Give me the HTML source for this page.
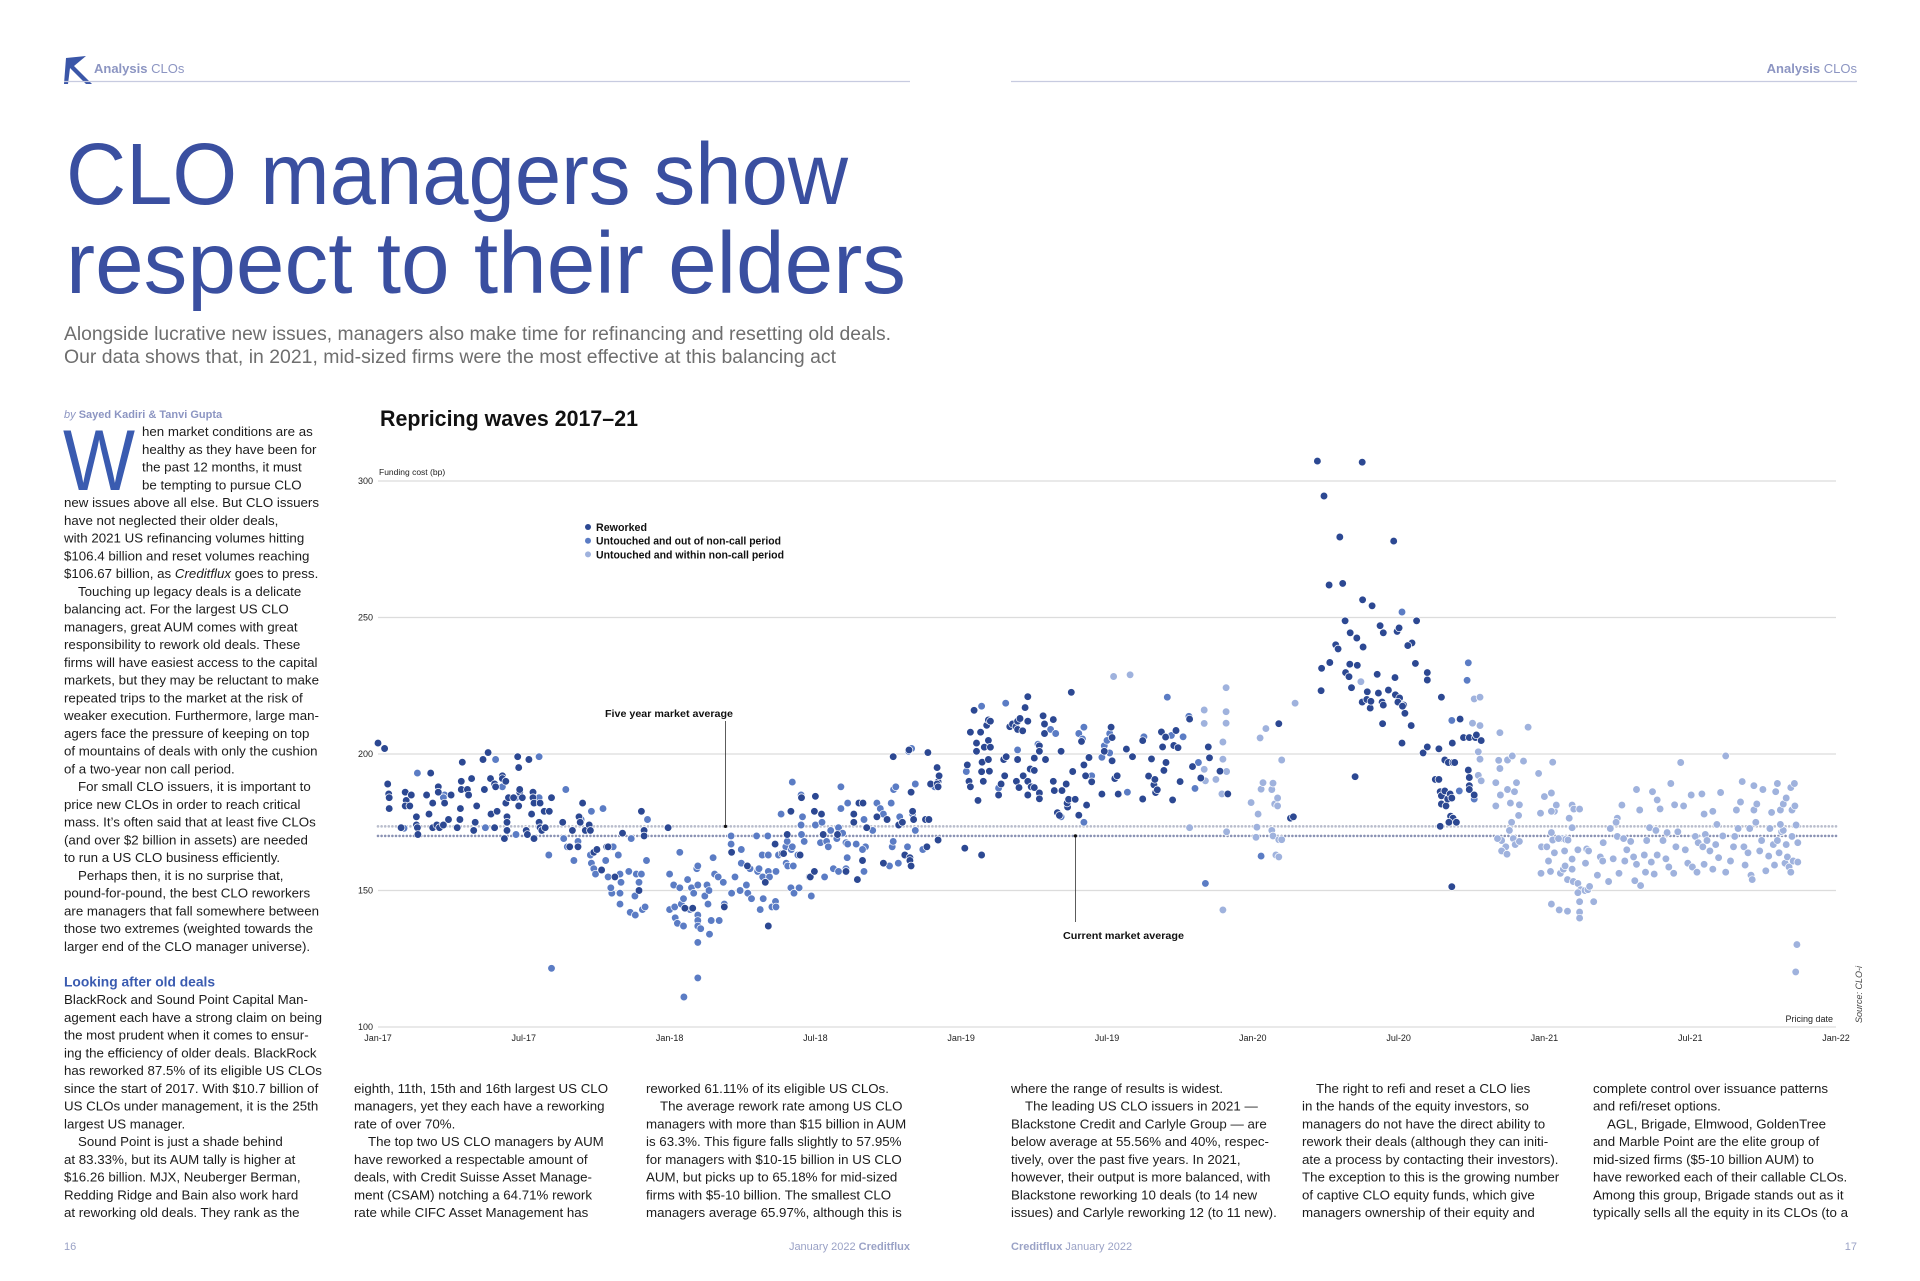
<!DOCTYPE html>
<html><head><meta charset="utf-8"><title>CLO managers show respect to their elders</title>
<style>
html,body{margin:0;padding:0;background:#fff;}
svg{display:block;font-family:"Liberation Sans",sans-serif;}
.body{font-size:13.3px;fill:#1c1c1c;}
.hdr{font-size:13px;fill:#8c95c2;}
.tick{font-size:9px;fill:#222;}
</style></head>
<body>
<svg id="page" width="1920" height="1281" viewBox="0 0 1920 1281" xmlns="http://www.w3.org/2000/svg">
<rect width="1920" height="1281" fill="#fff"/>
<g>
<path d="M66 58 L86 56 L74 66 L92 84 L86 84 L70 68 L68 84 L64 84 Z" fill="#3a56a8"/>
<text x="94" y="73" class="hdr"><tspan font-weight="bold">Analysis</tspan> CLOs</text>
<line x1="64" y1="81.5" x2="910" y2="81.5" stroke="#c7cbe0" stroke-width="1.2"/>
</g>
<g>
<text x="1857" y="73" text-anchor="end" class="hdr"><tspan font-weight="bold">Analysis</tspan> CLOs</text>
<line x1="1011" y1="81.5" x2="1857" y2="81.5" stroke="#c7cbe0" stroke-width="1.2"/>
</g>
<text x="66" y="204" font-size="87" fill="#3a4fa0" textLength="782" lengthAdjust="spacingAndGlyphs">CLO managers show</text>
<text x="66" y="293" font-size="87" fill="#3a4fa0" textLength="840" lengthAdjust="spacingAndGlyphs">respect to their elders</text>
<text x="64" y="340" font-size="19" fill="#6e6e6e" textLength="827" lengthAdjust="spacingAndGlyphs">Alongside lucrative new issues, managers also make time for refinancing and resetting old deals.</text>
<text x="64" y="363" font-size="19" fill="#6e6e6e" textLength="772" lengthAdjust="spacingAndGlyphs">Our data shows that, in 2021, mid-sized firms were the most effective at this balancing act</text>
<text x="64" y="418" font-size="11" fill="#8c95c2"><tspan font-style="italic">by </tspan><tspan font-weight="bold">Sayed Kadiri &amp; Tanvi Gupta</tspan></text>
<text x="63" y="490" font-size="86" fill="#3a5bb0" textLength="72" lengthAdjust="spacingAndGlyphs">W</text>
<g class="body">
<text x="142" y="436">hen market conditions are as</text>
<text x="142" y="453.75">healthy as they have been for</text>
<text x="142" y="471.5">the past 12 months, it must</text>
<text x="142" y="489.25">be tempting to pursue CLO</text>
<text x="64" y="507">new issues above all else. But CLO issuers</text>
<text x="64" y="524.75">have not neglected their older deals,</text>
<text x="64" y="542.5">with 2021 US refinancing volumes hitting</text>
<text x="64" y="560.25">$106.4 billion and reset volumes reaching</text>
<text x="64" y="578">$106.67 billion, as <tspan font-style="italic">Creditflux</tspan> goes to press.</text>
<text x="78" y="595.75">Touching up legacy deals is a delicate</text>
<text x="64" y="613.5">balancing act. For the largest US CLO</text>
<text x="64" y="631.25">managers, great AUM comes with great</text>
<text x="64" y="649">responsibility to rework old deals. These</text>
<text x="64" y="666.75">firms will have easiest access to the capital</text>
<text x="64" y="684.5">markets, but they may be reluctant to make</text>
<text x="64" y="702.25">repeated trips to the market at the risk of</text>
<text x="64" y="720">weaker execution. Furthermore, large man-</text>
<text x="64" y="737.75">agers face the pressure of keeping on top</text>
<text x="64" y="755.5">of mountains of deals with only the cushion</text>
<text x="64" y="773.25">of a two-year non call period.</text>
<text x="78" y="791">For small CLO issuers, it is important to</text>
<text x="64" y="808.75">price new CLOs in order to reach critical</text>
<text x="64" y="826.5">mass. It’s often said that at least five CLOs</text>
<text x="64" y="844.25">(and over $2 billion in assets) are needed</text>
<text x="64" y="862">to run a US CLO business efficiently.</text>
<text x="78" y="879.75">Perhaps then, it is no surprise that,</text>
<text x="64" y="897.5">pound-for-pound, the best CLO reworkers</text>
<text x="64" y="915.25">are managers that fall somewhere between</text>
<text x="64" y="933">those two extremes (weighted towards the</text>
<text x="64" y="950.75">larger end of the CLO manager universe).</text>
<text x="64" y="986.25" font-weight="bold" fill="#3a5bb0" font-size="13.8">Looking after old deals</text>
<text x="64" y="1004">BlackRock and Sound Point Capital Man-</text>
<text x="64" y="1021.75">agement each have a strong claim on being</text>
<text x="64" y="1039.5">the most prudent when it comes to ensur-</text>
<text x="64" y="1057.25">ing the efficiency of older deals. BlackRock</text>
<text x="64" y="1075">has reworked 87.5% of its eligible US CLOs</text>
<text x="64" y="1092.75">since the start of 2017. With $10.7 billion of</text>
<text x="64" y="1110.5">US CLOs under management, it is the 25th</text>
<text x="64" y="1128.25">largest US manager.</text>
<text x="78" y="1146">Sound Point is just a shade behind</text>
<text x="64" y="1163.75">at 83.33%, but its AUM tally is higher at</text>
<text x="64" y="1181.5">$16.26 billion. MJX, Neuberger Berman,</text>
<text x="64" y="1199.25">Redding Ridge and Bain also work hard</text>
<text x="64" y="1217">at reworking old deals. They rank as the</text>
</g>
<g class="body">
<text x="354" y="1092.75">eighth, 11th, 15th and 16th largest US CLO</text>
<text x="354" y="1110.5">managers, yet they each have a reworking</text>
<text x="354" y="1128.25">rate of over 70%.</text>
<text x="368" y="1146">The top two US CLO managers by AUM</text>
<text x="354" y="1163.75">have reworked a respectable amount of</text>
<text x="354" y="1181.5">deals, with Credit Suisse Asset Manage-</text>
<text x="354" y="1199.25">ment (CSAM) notching a 64.71% rework</text>
<text x="354" y="1217">rate while CIFC Asset Management has</text>
</g>
<g class="body">
<text x="646" y="1092.75">reworked 61.11% of its eligible US CLOs.</text>
<text x="660" y="1110.5">The average rework rate among US CLO</text>
<text x="646" y="1128.25">managers with more than $15 billion in AUM</text>
<text x="646" y="1146">is 63.3%. This figure falls slightly to 57.95%</text>
<text x="646" y="1163.75">for managers with $10-15 billion in US CLO</text>
<text x="646" y="1181.5">AUM, but picks up to 65.18% for mid-sized</text>
<text x="646" y="1199.25">firms with $5-10 billion. The smallest CLO</text>
<text x="646" y="1217">managers average 65.97%, although this is</text>
</g>
<g class="body">
<text x="1011" y="1092.75">where the range of results is widest.</text>
<text x="1025" y="1110.5">The leading US CLO issuers in 2021 —</text>
<text x="1011" y="1128.25">Blackstone Credit and Carlyle Group — are</text>
<text x="1011" y="1146">below average at 55.56% and 40%, respec-</text>
<text x="1011" y="1163.75">tively, over the past five years. In 2021,</text>
<text x="1011" y="1181.5">however, their output is more balanced, with</text>
<text x="1011" y="1199.25">Blackstone reworking 10 deals (to 14 new</text>
<text x="1011" y="1217">issues) and Carlyle reworking 12 (to 11 new).</text>
</g>
<g class="body">
<text x="1316" y="1092.75">The right to refi and reset a CLO lies</text>
<text x="1302" y="1110.5">in the hands of the equity investors, so</text>
<text x="1302" y="1128.25">managers do not have the direct ability to</text>
<text x="1302" y="1146">rework their deals (although they can initi-</text>
<text x="1302" y="1163.75">ate a process by contacting their investors).</text>
<text x="1302" y="1181.5">The exception to this is the growing number</text>
<text x="1302" y="1199.25">of captive CLO equity funds, which give</text>
<text x="1302" y="1217">managers ownership of their equity and</text>
</g>
<g class="body">
<text x="1593" y="1092.75">complete control over issuance patterns</text>
<text x="1593" y="1110.5">and refi/reset options.</text>
<text x="1607" y="1128.25">AGL, Brigade, Elmwood, GoldenTree</text>
<text x="1593" y="1146">and Marble Point are the elite group of</text>
<text x="1593" y="1163.75">mid-sized firms ($5-10 billion AUM) to</text>
<text x="1593" y="1181.5">have reworked each of their callable CLOs.</text>
<text x="1593" y="1199.25">Among this group, Brigade stands out as it</text>
<text x="1593" y="1217">typically sells all the equity in its CLOs (to a</text>
</g>
<g font-size="11" fill="#9aa2c6">
<text x="64" y="1250">16</text>
<text x="910" y="1250" text-anchor="end">January 2022 <tspan font-weight="bold">Creditflux</tspan></text>
<text x="1011" y="1250"><tspan font-weight="bold">Creditflux</tspan> January 2022</text>
<text x="1857" y="1250" text-anchor="end">17</text>
</g>
<g id="chart">
<text x="380" y="426" font-size="22" font-weight="bold" fill="#111" textLength="258" lengthAdjust="spacingAndGlyphs">Repricing waves 2017–21</text>
<text x="379" y="475" font-size="8.5" fill="#222">Funding cost (bp)</text>
<text x="1833" y="1022" font-size="9" fill="#222" text-anchor="end">Pricing date</text>
<text transform="translate(1862,1023) rotate(-90)" font-size="9" font-style="italic" fill="#444">Source: CLO-i</text>
<g id="grid"></g><g id="avgs"></g><g id="dots"></g><g id="legend"></g>
</g>
</svg>
<script>
const yTicks = [100, 150, 200, 250, 300];
const xTickLabels = ["Jan-17","Jul-17","Jan-18","Jul-18","Jan-19","Jul-19","Jan-20","Jul-20","Jan-21","Jul-21","Jan-22"];
const xTickMonths = [0,6,12,18,24,30,36,42,48,54,60];
const fiveYearAvg = 173.5;
const currentAvg = 170;
const seriesNames = ["Reworked","Untouched and out of non-call period","Untouched and within non-call period"];
// [months since Jan-2017, funding cost bp]
const reworked = [[0,204],[0.27,202],[0.4,189],[0.44,185.4],[0.46,184],[0.46,180],[0.95,173],[1.12,186],[1.16,183],[1.12,181],[1.37,185],[1.31,181],[1.58,177],[1.58,174],[1.62,173],[1.64,170.5],[2.17,193],[2,185],[2.1,178],[2.25,182],[2.25,173],[2.48,188],[2.48,186],[2.42,174],[2.53,173],[2.69,174],[3.01,185],[2.9,176],[2.74,182],
[3.26,173],[3.37,176],[3.39,180],[3.43,187],[3.43,190],[3.47,197],[3.68,187],[3.73,185],[3.85,191],[3.94,172],[4,175],[4.06,181],[4.32,198],[4.38,187],[4.53,200.5],[4.63,191],[4.65,178],[4.8,189],[4.84,188],[4.9,179],[4.8,173],[5.12,192],[5.12,191],[5.2,169],[5.26,190],[5.31,177],[5.31,175],[5.31,172],[5.26,182],[5.37,184],[5.58,184],[5.75,199],[5.79,195],[5.79,181],[5.83,186],[5.83,187],[5.94,184],[6.1,172],[6.15,170.5],[6.21,198],[6.32,178],[6.38,186],[6.38,184],[6.42,169],[6.42,182],[6.67,182],[6.63,175],[6.67,173],[6.74,172],[6.84,179],[6.88,173],[7.05,179],[7.14,184],
[7.6,175],[7.89,166],[8,172],[8.27,177],[8.32,175],[8.23,166],[8.42,182],[8.53,172],[8.69,174],[8.74,172],[8.88,164],[9.01,165],[9.2,157.5],[9.41,166],[9.47,166],[9.75,155],[10.06,171],[10.74,150],[10.84,179],[10.95,172],[10.95,170],
[11.94,173],[12.63,143.5],[12.95,143.5],[14.25,144],[14.55,164],[15.2,159],[15.94,153],[16.06,137],[16.34,167],[16.63,163.5],[16.69,163.5],[16.84,170.5],[16.99,179],[17.37,163],[17.43,184],[17.75,155],[17.79,155],[17.96,157],[18,184.5],[17.96,179],[18.25,178],[18.32,170.5],[18.91,170.5],[19.26,157],[19.58,178],[19.58,175],[19.73,154],[19.79,182],[19.96,182],[19.94,161],[20.11,173],[20.53,177],[20.8,160],[20.95,176],[21.2,199],[21.43,174],[21.58,175],[21.68,163],[21.89,162],[21.89,161],[21.94,159],[21.85,201.5],[21.94,186],[22,179],[22.04,176],[22.53,176],[22.59,166],[22.63,200.5],[22.67,176],[22.74,189],[23.01,195],[23.05,189.8],[23.01,189],[23.05,188],[23.09,192],[23.05,168.5],
[24.25,196],[24.32,190],[24.38,188],[24.53,216],[24.38,208],[24.15,165.5],[24.63,204],[24.63,201],[24.69,183],[24.8,208],[24.86,197],[24.84,193.5],[24.91,190],[24.84,163],[24.95,202.5],[25.12,205],[25.05,210.5],[25.12,212.5],[25.12,198],[25.16,193.7],[25.2,202.5],[25.2,212],[25.54,185],[25.64,189],[25.79,192],[25.75,198],[25.85,199],[26,210],[26.11,211],[26.25,210],[26.32,212],[26.32,209],[26.32,198],[26.27,190],[26.42,213],[26.53,208.5],[26.38,187.7],[26.55,192],[26.63,217],[26.74,221],[26.74,212],[26.74,185],[26.74,190],[26.84,194.5],[26.88,188],[27.01,198.5],[27.01,194],[27.01,187.7],[27.22,203],[27.22,201],[27.22,185.7],[27.22,183.6],[27.37,214],[27.43,211],[27.43,207.5],[27.47,198],[27.79,212.6],[27.79,190],[27.83,186.6],[27.96,178.5],[28.04,177.5],[28.11,201],[28.15,186.6],[28.32,189],[28.38,180.6],[28.36,182],[28.42,183.4],[28.53,222.6],[28.59,193.6],[28.69,183.4],[28.84,177.6],[28.95,204.6],[29.05,196],[29.12,192],[29.16,181.3],[29.26,198.7],[29.37,189.8],[29.79,185.3],[29.89,201],[30.17,209.8],[30.21,206],[30.21,197.5],[30.32,191],[30.42,192],[30.46,185.3],[30.8,201.8],[31.05,199],
[31.47,204.9],[31.47,183.5],[31.71,191.9],[31.83,198.2],[31.93,188.7],[31.97,190.7],[32,185.9],[32.07,186.9],[32.24,208.1],[32.29,202.6],[32.34,194],[32.41,206.2],[32.43,196.9],[32.7,183.2],[32.75,203.1],[32.84,208.6],[32.92,202.3],[33.01,189.9],[33.4,212.8],[33.52,195.4],[33.86,191.2],[34.17,202.6],[34.22,198.6],[34.65,193.7],[34.97,185.4],
[37.07,211.1],[37.55,176.5],[37.67,177],
[38.66,307.3],[40.5,306.9],[38.93,294.5],[39.58,279.5],[41.8,278],[39.14,261.9],[39.7,262.5],[40.52,256.5],[40.91,254.3],[42.74,248.8],[39.8,248.8],[40.01,244.4],[40.28,242.5],[41.37,244.4],[41.24,247],[41.94,244.9],[42.02,246.2],[39.41,240],[39.51,238.5],[40.54,239.2],[42.55,240.7],[42.38,239.7],[39.17,233.5],[38.83,231.4],[39.99,232.9],[40.3,232.5],[39.82,229.8],[39.96,228.3],[41.12,229.2],[41.85,228],[42.69,233.2],[43.18,229.8],[43.18,227.1],[38.81,223.2],[40.06,224.3],[40.5,219],[40.83,216.8],[40.71,222.8],[40.69,220],[40.86,219.3],[41.17,222.3],[41.32,219],[41.37,217.9],[41.58,223.4],[41.87,221.7],[42.04,220.5],[41.97,219],[42.21,217.9],[42.26,214.9],[42.52,210.4],[42.14,204],[41.34,211.1],[42.16,217.5],[40.21,191.7],[43.76,220.8],[43.66,201.9],[43.01,200.4],[43.18,202.6],[43.9,197.8],[44.05,196.9],[44.24,196.9],[44.31,196.9],[43.51,190.7],[43.66,190.7],[43.71,186.2],[43.76,184.7],[43.76,181.7],[43.9,186.5],[43.95,181],[44.02,183.5],[44.12,185.4],[44.19,183.9],[44.14,177.2],[44.24,176.5],[44.07,175],[43.71,173.5],[44.19,151.4],[44.38,175],[44.21,204],[44.53,212.8],[44.87,194.1],[44.91,191.4],[44.91,188.4],[44.91,187],[45.11,185],[44.67,206],[44.91,206],[45.16,206],[45.2,207],[45.4,204.9]];
const untouchedOut = [[1.07,172.8],[1.62,193],[2.74,185],[2.69,184],[4.42,173],[4.84,198],[5.12,188],[5.68,184],[5.68,170.5],[6.63,199],[6.63,184],[7.03,163],[7.14,121.5],
[7.73,187],[7.64,169],[7.79,166],[8.06,161],[8.23,168],[8.36,176],[8.78,179],[8.74,163],[8.78,160],[8.88,158],[8.95,156],[9.26,180],[9.37,161],[9.47,155],[9.58,166],[9.68,166],[9.62,149],[9.58,151],[9.89,163],[9.96,149],[9.96,145],[10,153],[9.96,156],[10.32,157],[10.42,169],[10.38,142],[10.59,141],[10.63,156],[10.57,148],[10.74,153],[10.84,156],[10.88,143],[10.99,144],[11.05,161],[11.09,176],
[12,143],[12,156],[12.17,152],[12.21,144],[12.23,140],[12.32,138],[12.42,164],[12.42,151],[12.48,145],[12.57,147],[12.57,137],[12.59,111],[12.74,154],[12.84,143],[12.9,151],[12.99,149],[13.12,158],[13.16,159],[13.16,152],[13.16,141],[13.16,139],[13.16,137],[13.16,131],[13.16,118],[13.28,136],[13.45,148],[13.54,152],[13.58,145],[13.62,150],[13.64,134],[13.71,139],[13.79,162],[13.85,156],[14,155],[14.04,139],[14.21,153],[14.25,145],[14.53,170],[14.53,167],[14.55,149],[14.69,155],[14.9,150],[14.95,165],[14.95,160],[15.16,152],[15.22,149],[15.31,158],[15.37,147],[15.58,170],[15.62,157],[15.68,158],[15.73,143],[15.81,163],[15.83,155],[15.85,147],[16.06,163],[16.06,157],[16.04,170],[16.11,155],[16.21,144],[16.36,146],[16.38,144],[16.38,157],[16.48,163],[16.59,178],[16.78,166],[16.8,160],[16.84,168],[16.86,159],[17.01,165],[17.05,189.7],[17.05,166],[16.99,151],[17.12,149],[17.09,159],[17.28,163],[17.33,151],[17.41,174],[17.43,170.5],[17.41,185],[17.54,168],[17.47,177],[17.83,148],[18,174],[18.27,175],[18.21,167.5],[18.38,155],[18.46,168],[18.53,166],[18.63,172],[18.74,158],[18.88,169],[18.95,173],[18.95,157],[19.05,188],[19.05,180],[19.12,171],[19.26,158],[19.26,167.5],[19.31,162],[19.33,167],[19.33,182],[19.68,167],[20,176],[20.06,166],[19.94,165],[20,157],[20.36,172],[20.53,182],[20.67,180],[20.8,178],[21.05,159],[21.16,166],[21.2,168],[21.12,182],[21.22,187],[21.31,188],[21.47,177],[21.41,160],[21.79,166],[21.83,201],[21.96,202],[22,178],[22.11,172],[22.11,189],[22.42,165],[22.91,188],
[24.21,193.6],[24.84,217.5],[25.54,187.5],[25.83,218.6],[26.32,201.5],[27.16,203.6],[27.68,209],[27.89,207.5],[28.11,177],[28.84,207.5],[28.99,205.5],[29.05,209.8],[29.05,175],[29.37,192],[29.79,198.8],[29.89,203],[30,205],[30.11,207.5],[30.11,200.4],[30.84,186],
[31.52,206.3],[32.48,220.8],[32.65,206.8],[33.13,206.3],[33.37,213.8],[33.62,187.4],[33.76,196.9],[34.05,152.6],[36.34,162.6],[42.14,252],[44.87,233.4],[44.82,227],[44.19,212.3],[44.5,186.5],[45.11,183.5]];
const untouchedIn = [[30.27,228.4],[30.95,229],[34,216.1],[34,211.2],[34,194.4],[34.05,190.2],[34.48,190.7],[34.77,198.1],[34.73,185.4],[34.9,224.3],[34.9,215.5],[34.9,211.3],[34.77,204.4],[34.92,193.6],[34.92,171.5],[34.77,142.9],[33.4,173],
[35.93,182.2],[36.3,205.9],[36.54,209.3],[36.34,187.1],[36.42,189.5],[36.22,178],[36.17,173.2],[36.13,169.5],[36.78,187],[36.83,189.3],[36.9,181.7],[36.78,172],[36.83,170],[37.02,183.9],[37.02,181],[36.95,163],[37.07,162.3],[37.07,168.6],[37.19,168.6],[37.19,197.8],[37.74,218.6],
[40.45,226.5],[45.04,211.3],[45.35,210.4],[45.28,200.8],[45.35,198.1],[45.28,192.2],[45.4,190.2],[45.11,220.2],[45.35,220.8],
[46.17,207.8],[46,189.5],[46.17,194.7],[46.12,197.7],[46.48,197.8],[46.68,199.3],[47.14,197.4],[47.33,209.8],[46,181],[46.19,185],[46.48,187],[46.6,182],[46.85,189.5],[46.77,186.2],[46.97,181.4],[46.94,177.5],[46.65,175],[46.56,172],[46.72,169],[46.24,168.3],[46.07,169],[46.41,166],[46.24,164.5],[46.46,163.3],[46.8,166.8],[46.97,168],[47.76,192.9],[48,184.4],[48.29,185.7],[48.34,197],[48.41,179],[48.29,179],[47.84,178.3],[48.49,181.3],[49.14,181.3],[49.21,179.8],[49.45,179.8],[49.02,176.5],[49.14,173],[48.29,171.2],[48.34,168.5],[48.73,169],[48.87,168.7],[48.97,168.5],[48.58,169],[47.88,166],[48.1,166],[48.41,163.8],[48.83,164.5],[49.14,161.5],[49.38,164.9],[49.74,165.2],[48.17,160.8],[48.25,157],[47.86,156.3],[48.66,156.3],[48.78,157.8],[48.85,159],[49.14,157.8],[49.69,160],[48.95,154],[49.19,153.3],[49.38,152.6],[49.5,150.3],[48.29,145],[48.61,142.9],[48.95,142.4],[49.38,149.2],[49.67,150],[49.79,150.3],[49.86,151.5],[50.03,145.9],[49.45,145.9],[49.45,142.1],[49.45,139.9],[49.82,164.5],[50.18,155.6],[50.3,162.3],[50.42,167.5],[50.4,160.8],[50.64,153.3],[50.71,172.7],[50.83,161.6],[51,169.8],[51,176.5],[50.95,175],[51.07,156.3],[51.19,181.3],[51.26,169],[51.31,160.8],[51.39,164.9],[51.55,168],[51.67,162.3],[51.72,153.6],[51.79,159.6],[51.79,187],[51.92,179.5],[51.96,151.8],[52.11,163],[52.16,156.7],[52.21,168.3],[52.33,173],[52.4,160.4],[52.45,186.2],[52.52,156],[52.59,172],[52.64,163],[52.64,183.2],[52.76,179.9],[52.88,168.3],[53.05,171.2],[53,161.6],[53.12,158.6],[53.2,189.2],[53.32,156.3],[53.36,181.4],[53.41,166],[53.49,171.5],[53.61,196.9],[53.73,181],[53.8,164.9],[53.9,160],[54.04,185],[54.09,158.6],[54.21,169.8],[54.28,156.7],[54.33,167.5],[54.48,185.4],[54.52,166],[54.57,159.6],[54.57,178],[54.62,170.5],[54.69,168.3],[54.81,164.5],[54.93,157.8],[54.93,179],[55.05,166.8],[55.1,174.2],[55.17,162],[55.25,185.9],[55.34,170],[55.46,156.7],[55.46,199.3],[55.66,160.8],[55.78,166],[55.83,169.8],[55.9,179.5],[55.97,172.7],[56.07,182.4],[56.14,189.9],[56.21,166],[56.26,159.3],[56.38,163.8],[56.45,172.7],[56.5,155.6],[56.55,154],[56.62,188.4],[56.62,179.5],[56.7,175],[56.74,181.7],[56.86,164.5],[56.94,168.3],[56.99,187],[57.11,157.2],[57.23,162.6],[57.28,172.7],[57.35,178.6],[57.42,166.8],[57.47,159.3],[57.52,186.2],[57.59,168.3],[57.59,189.2],[57.66,163.8],[57.71,179.5],[57.76,171.5],[57.83,181.7],[57.9,160],[57.95,183.9],[57.95,166.8],[58,162.3],[58.07,158.6],[58.14,187.7],[58.14,156.7],[58.19,179.5],[58.19,169.8],[58.24,160.8],[58.29,189.2],[58.31,181],[58.36,174],[58.43,167.5],[58.43,160.4],[58.39,130.2],[58.34,120.2],[57.83,172],[57.71,174.2]];

const NS = "http://www.w3.org/2000/svg";
const X0 = 378, X1 = 1836, Y100 = 1027, Y300 = 481;
const xScale = m => X0 + m * (X1 - X0) / 60;
const yScale = v => Y100 - (v - 100) * (Y100 - Y300) / 200;
function mk(tag, attrs, parent) { const e = document.createElementNS(NS, tag); for (const k in attrs) e.setAttribute(k, attrs[k]); parent.appendChild(e); return e; }

const grid = document.getElementById('grid');
yTicks.forEach(v => {
  const ln = mk('line', {x1: X0, x2: X1, y1: yScale(v), y2: yScale(v), stroke: '#dcdcdc', 'stroke-width': 1.3}, grid);
  
  
  const t = mk('text', {x: X0 - 5, y: yScale(v) + 3, 'text-anchor': 'end', class: 'tick'}, grid);
  t.textContent = v;
  
  
});
xTickLabels.forEach((lab, i) => {
  const t = mk('text', {x: xScale(xTickMonths[i]), y: 1041, 'text-anchor': 'middle', class: 'tick'}, grid);
  t.textContent = lab;
  
  
});

const avgs = document.getElementById('avgs');
const l5 = mk('line', {x1: X0, x2: X1, y1: yScale(fiveYearAvg), y2: yScale(fiveYearAvg), stroke: '#b9bdcc', 'stroke-width': 2.6, 'stroke-dasharray': '0 3.6', 'stroke-linecap': 'round'}, avgs);


const lc = mk('line', {x1: X0, x2: X1, y1: yScale(currentAvg), y2: yScale(currentAvg), stroke: '#8a92b3', 'stroke-width': 2.6, 'stroke-dasharray': '0 3.6', 'stroke-linecap': 'round'}, avgs);



const dots = document.getElementById('dots');
const seriesData = [untouchedIn, untouchedOut, reworked];
const seriesColors = ['#9fb2dd', '#5b7cc4', '#2c4892'];
const seriesKeys = ['untouched-within', 'untouched-out', 'reworked'];
seriesData.forEach((arr, si) => {
  arr.forEach(p => {
    const c = mk('circle', {cx: xScale(p[0]).toFixed(1), cy: yScale(p[1]).toFixed(1), r: 3.8, fill: seriesColors[si], stroke: '#fff', 'stroke-width': 0.7}, dots);
    
    
  });
});

const ax5 = xScale(14.3), axc = xScale(28.7);
const a1 = mk('line', {x1: ax5, x2: ax5, y1: 721, y2: yScale(fiveYearAvg), stroke: '#333', 'stroke-width': 0.8}, avgs);


mk('circle', {cx: ax5, cy: yScale(fiveYearAvg), r: 1.6, fill: '#111'}, avgs);
const t1 = mk('text', {x: 605, y: 717, 'font-size': 10.5, 'font-weight': 'bold', fill: '#111', textLength: 128, lengthAdjust: 'spacingAndGlyphs'}, avgs);
t1.textContent = 'Five year market average';


const a2 = mk('line', {x1: axc, x2: axc, y1: yScale(currentAvg), y2: 922, stroke: '#333', 'stroke-width': 0.8}, avgs);


mk('circle', {cx: axc, cy: yScale(currentAvg), r: 1.6, fill: '#111'}, avgs);
const t2 = mk('text', {x: 1063, y: 939, 'font-size': 10.5, 'font-weight': 'bold', fill: '#111', textLength: 121, lengthAdjust: 'spacingAndGlyphs'}, avgs);
t2.textContent = 'Current market average';



const legend = document.getElementById('legend');
const legColors = ['#2c4892', '#5b7cc4', '#9fb2dd'];
const legWidths = [51, 185, 188];
seriesNames.forEach((nm, i) => {
  const g = mk('g', {}, legend);
  
  
  mk('circle', {cx: 588, cy: 527 + i * 13.7, r: 3, fill: legColors[i]}, g);
  const t = mk('text', {x: 596, y: 531 + i * 13.7, 'font-size': 11, 'font-weight': 'bold', fill: '#111', textLength: legWidths[i], lengthAdjust: 'spacingAndGlyphs'}, g);
  t.textContent = nm;
});
</script>
</body></html>
